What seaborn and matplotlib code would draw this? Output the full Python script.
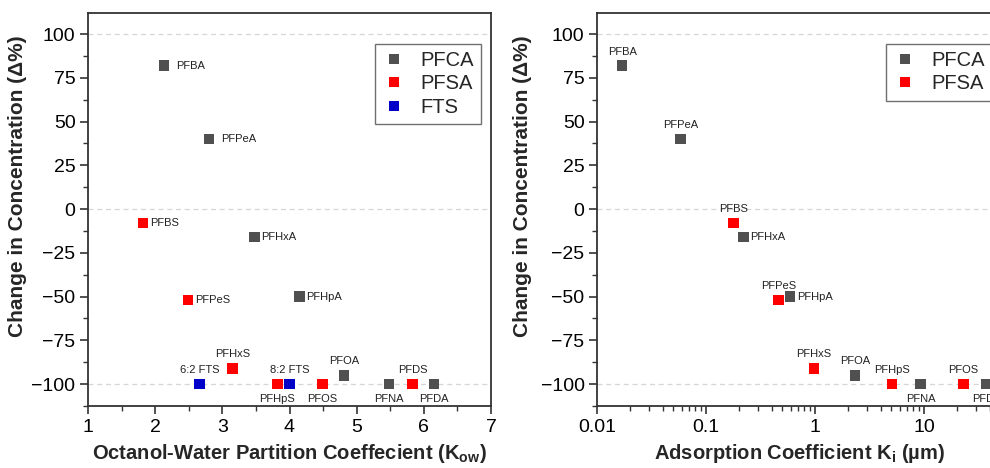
import numpy as np
import pandas as pd
import matplotlib
matplotlib.use("Agg")
import matplotlib.pyplot as plt
import seaborn as sns
from matplotlib.ticker import MultipleLocator, LogLocator, NullFormatter, FixedLocator, FixedFormatter

# ---- data -------------------------------------------------------------
kow_names = ["PFBA", "PFPeA", "PFBS", "PFHxA", "PFHpA", "PFPeS", "PFHxS", "6:2 FTS",
             "PFHpS", "8:2 FTS", "PFOS", "PFOA", "PFNA", "PFDS", "PFDA"]
kow_class = ["PFCA", "PFCA", "PFSA", "PFCA", "PFCA", "PFSA", "PFSA", "FTS",
             "PFSA", "FTS", "PFSA", "PFCA", "PFCA", "PFSA", "PFCA"]
kow_values = [2.13, 2.80, 1.82, 3.48, 4.15, 2.49, 3.15, 2.66,
              3.82, 4.00, 4.49, 4.81, 5.48, 5.83, 6.15]
kow_change = [82, 40, -8, -16, -50, -52, -91, -100,
              -100, -100, -100, -95, -100, -100, -100]
kow_label_side = ["right_far", "right_far", "right", "right", "right", "right", "above", "above",
                  "below", "above", "below", "above", "below", "above", "below"]

ki_names = ["PFBA", "PFPeA", "PFBS", "PFHxA", "PFPeS", "PFHpA", "PFHxS", "PFOA",
            "PFHpS", "PFNA", "PFOS", "PFDA"]
ki_class = ["PFCA", "PFCA", "PFSA", "PFCA", "PFSA", "PFCA", "PFSA", "PFCA",
            "PFSA", "PFCA", "PFSA", "PFCA"]
ki_values = [0.017, 0.058, 0.18, 0.22, 0.46, 0.59, 0.98, 2.33,
             5.1, 9.3, 23.0, 37.6]
ki_change = [82, 40, -8, -16, -52, -50, -91, -95,
             -100, -100, -100, -100]
ki_label_side = ["above", "above", "above", "right", "above", "right", "above", "above",
                 "above", "below", "above", "below"]

class_order = ["PFCA", "PFSA", "FTS"]
class_colors = {"PFCA": "#505050", "PFSA": "#ff0000", "FTS": "#0000c8"}

kow_df = pd.DataFrame({"name": kow_names, "cls": kow_class, "x": kow_values,
                       "y": kow_change, "side": kow_label_side})
ki_df = pd.DataFrame({"name": ki_names, "cls": ki_class, "x": ki_values,
                      "y": ki_change, "side": ki_label_side})

# ---- style ------------------------------------------------------------
sns.set_theme(style="ticks")
plt.rcParams["font.family"] = ["Liberation Sans", "DejaVu Sans"]
plt.rcParams["mathtext.fontset"] = "custom"
plt.rcParams["mathtext.rm"] = "Liberation Sans"
plt.rcParams["mathtext.bf"] = "Liberation Sans:bold"
plt.rcParams["mathtext.it"] = "Liberation Sans:italic"

label_place = {
    "right": dict(xytext=(5, 0), ha="left", va="center"),
    "right_far": dict(xytext=(9, 0), ha="left", va="center"),
    "above": dict(xytext=(0, 10), ha="center", va="center"),
    "below": dict(xytext=(0, -11), ha="center", va="center"),
}

fig = plt.figure(figsize=(9.9, 4.68), dpi=100)
ax1 = fig.add_axes([88 / 990, 62 / 468, 403 / 990, 393 / 468])
ax2 = fig.add_axes([597 / 990, 62 / 468, 405 / 990, 393 / 468])


def style_axes(ax, label_x):
    for sp in ax.spines.values():
        sp.set_color("#333333")
        sp.set_linewidth(1.3)
        sp.set_visible(True)
    ax.tick_params(which="major", direction="out", length=6, width=1.2,
                   color="#333333", labelsize=14, labelcolor="black",
                   top=False, right=False, pad=3)
    ax.tick_params(which="minor", direction="out", length=3.5, width=1.0,
                   color="#333333", top=False, right=False)
    for yv in (100, 0, -100):
        ax.axhline(yv, color="#d6d6d6", lw=0.9, ls=(0, (4, 3)), zorder=0)
    ax.set_ylim(-112.5, 112)
    ax.yaxis.set_major_locator(MultipleLocator(25))
    ax.yaxis.set_minor_locator(MultipleLocator(12.5))
    ax.set_ylabel("Change in Concentration (Δ%)", fontsize=15, fontweight="bold")
    ax.yaxis.set_label_coords(label_x, 0.56)


def draw_panel(ax, df, classes):
    sns.scatterplot(data=df, x="x", y="y", hue="cls", hue_order=classes,
                    palette=class_colors, marker="s", s=60, linewidth=0,
                    ax=ax, zorder=3)
    for _, r in df.iterrows():
        ax.annotate(r["name"], (r["x"], r["y"]), textcoords="offset points",
                    fontsize=8, color="#222222", **label_place[r["side"]])
    handles, labels = ax.get_legend_handles_labels()
    ax.legend(handles, labels, loc="upper right",
              bbox_to_anchor=(1 - 10 / 403, 1 - 31 / 393),
              frameon=True, fancybox=False, edgecolor="#707070", framealpha=1,
              fontsize=14.5, markerscale=1.0, handletextpad=0.7,
              borderpad=0.35, labelspacing=0.22, handlelength=1.2,
              borderaxespad=0)
    ax.get_legend().get_frame().set_linewidth(1.0)


# left panel: octanol-water partition coefficient
style_axes(ax1, -0.151)
draw_panel(ax1, kow_df, class_order)
ax1.set_xlim(1, 7)
ax1.xaxis.set_major_locator(MultipleLocator(1))
ax1.xaxis.set_minor_locator(MultipleLocator(0.5))
ax1.set_xlabel(r"Octanol-Water Partition Coeffecient (K$_\mathbf{ow}$)",
               fontsize=14.5, fontweight="bold", labelpad=5)

# right panel: adsorption coefficient, log scale
style_axes(ax2, -0.160)
draw_panel(ax2, ki_df, ["PFCA", "PFSA"])
ax2.set_xscale("log")
ax2.set_xlim(0.01, 52)
ax2.xaxis.set_major_locator(FixedLocator([0.01, 0.1, 1, 10]))
ax2.xaxis.set_major_formatter(FixedFormatter(["0.01", "0.1", "1", "10"]))
ax2.xaxis.set_minor_locator(LogLocator(base=10, subs=np.arange(2, 10)))
ax2.xaxis.set_minor_formatter(NullFormatter())
ax2.set_xlabel(r"Adsorption Coefficient K$_\mathbf{i}$ (µm)",
               fontsize=14.5, fontweight="bold", labelpad=5)

fig.savefig("out.png", dpi=100)
